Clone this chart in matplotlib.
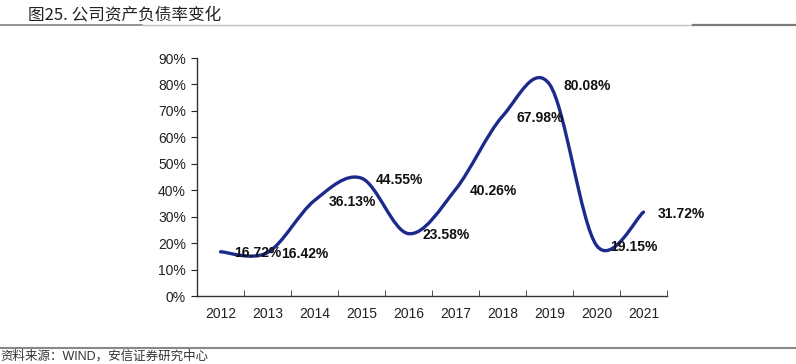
import matplotlib
matplotlib.use('Agg')
import matplotlib.pyplot as plt
import numpy as np
from matplotlib.path import Path
from matplotlib.patches import PathPatch
from matplotlib.lines import Line2D

plt.rcParams['font.family'] = ['Liberation Sans', 'Noto Sans CJK SC', 'DejaVu Sans']

# debt-to-asset ratio by year (%)
years = ['2012', '2013', '2014', '2015', '2016', '2017', '2018', '2019', '2020', '2021']
ratio = [16.72, 16.42, 36.13, 44.55, 23.58, 40.26, 67.98, 80.08, 19.15, 31.72]

title = '图25. 公司资产负债率变化'
source = '资料来源：WIND，安信证券研究中心'

fig = plt.figure(figsize=(7.96, 3.64), dpi=100)
ax = fig.add_axes([197 / 796, 1 - 296 / 364, 470 / 796, 238 / 364])

# smoothed line like Excel (Bezier through the points)
x = np.arange(len(ratio), dtype=float)
y = np.array(ratio)
pts = np.column_stack([x, y])
ext = np.vstack([pts[0], pts, pts[-1]])
verts = [tuple(pts[0])]
codes = [Path.MOVETO]
for i in range(len(pts) - 1):
    p0, p1, p2, p3 = ext[i], ext[i + 1], ext[i + 2], ext[i + 3]
    c1 = p1 + (p2 - p0) / 6
    c2 = p2 - (p3 - p1) / 6
    verts += [tuple(c1), tuple(c2), tuple(p2)]
    codes += [Path.CURVE4] * 3
ax.add_patch(PathPatch(Path(verts, codes), facecolor='none', edgecolor='#1c2a8c',
                       lw=2.4, capstyle='round', joinstyle='round'))

for xi, yi in zip(x, y):
    ax.annotate(f'{yi:.2f}%', (xi, yi), xytext=(10, -1), textcoords='offset points',
                ha='left', va='center', fontsize=10, fontweight='bold', color='#111111')

ax.set_xlim(-0.5, len(years) - 0.5)
ax.set_ylim(0, 90)
ax.set_yticks(np.arange(0, 91, 10))
ax.set_yticklabels([f'{v}%' for v in range(0, 91, 10)])
ax.set_xticks(x)
ax.set_xticklabels(years)
ax.set_xticks(np.arange(0.5, len(years), 1), minor=True)
ax.tick_params(axis='x', which='major', length=0, pad=8, labelsize=10, colors='#222222')
ax.tick_params(axis='x', which='minor', length=4, direction='in', color='#333333')
ax.tick_params(axis='y', length=4, direction='out', pad=4, labelsize=10,
               colors='#222222')
for s in ['top', 'right']:
    ax.spines[s].set_visible(False)
for s in ['left', 'bottom']:
    ax.spines[s].set_color('#333333')
    ax.spines[s].set_linewidth(1.0)

# header and footer
fig.text(28 / 796, 1 - 15 / 364, title, fontsize=12, color='#222222', fontweight='medium',
         family=['Noto Sans CJK SC', 'DejaVu Sans'], va='center', ha='left')
fig.add_artist(Line2D([0, 142 / 796], [1 - 24.5 / 364] * 2, color='#808080', lw=1.2))
fig.add_artist(Line2D([142 / 796, 693 / 796], [1 - 24.5 / 364] * 2, color='#c0c0c0', lw=1.0))
fig.add_artist(Line2D([693 / 796, 1], [1 - 24.8 / 364] * 2, color='#7a7a7a', lw=1.6))
fig.add_artist(Line2D([0, 1], [1 - 347.5 / 364] * 2, color='#888888', lw=1.5))
fig.text(0, 1 - 356 / 364, source, fontsize=9, color='#333333',
         va='center', ha='left')

fig.savefig('out.png', dpi=100)
